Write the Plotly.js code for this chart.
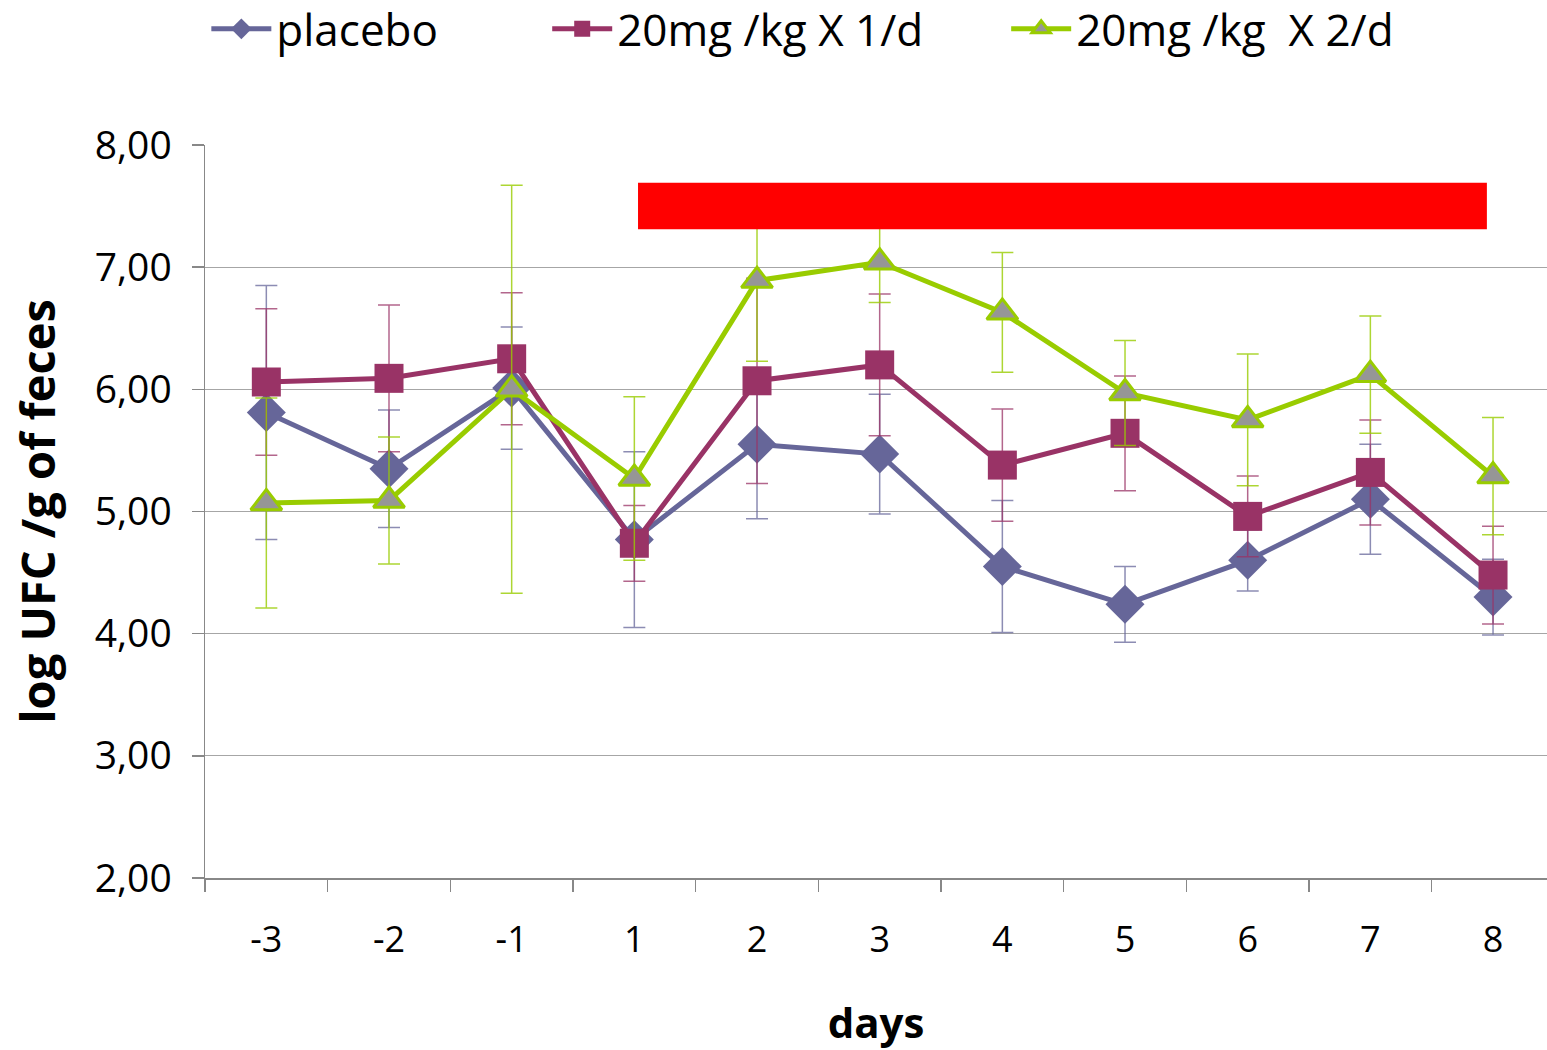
<!DOCTYPE html>
<html>
<head>
<meta charset="utf-8">
<script src="https://cdn.plot.ly/plotly-3.0.1.min.js"></script>
<style>html,body{margin:0;padding:0;background:#fff;}#chart{width:1547px;height:1050px;}</style>
</head>
<body>
<div id="chart"></div>
<script>
const days = ['-3','-2','-1','1','2','3','4','5','6','7','8'];

const placebo    = [5.81, 5.35, 6.01, 4.77, 5.55, 5.47, 4.55, 4.24, 4.60, 5.10, 4.30];
const placeboErr = [1.04, 0.48, 0.50, 0.72, 0.61, 0.49, 0.54, 0.31, 0.25, 0.45, 0.31];

const dose1      = [6.06, 6.09, 6.25, 4.74, 6.07, 6.20, 5.38, 5.64, 4.96, 5.32, 4.48];
const dose1Err   = [0.60, 0.60, 0.54, 0.31, 0.84, 0.58, 0.46, 0.47, 0.33, 0.43, 0.40];

const dose2      = [5.07, 5.09, 6.00, 5.27, 6.89, 7.04, 6.63, 5.97, 5.75, 6.12, 5.29];
const dose2Err   = [0.86, 0.52, 1.67, 0.67, 0.66, 0.33, 0.49, 0.43, 0.54, 0.48, 0.48];

const seriesNames = ['placebo', '20mg /kg X 1/d', '20mg /kg  X 2/d'];

// treatment period bar: from day 1 to day 8, between these log values
const treatmentDays  = ['1', '8'];
const treatmentLevel = [7.31, 7.69];

const FONT = 'Open Sans, Liberation Sans, sans-serif';

function mk(name, y, err, color, symbol, size, fill, lineColor, errColor, legendId) {
  return {
    type: 'scatter', mode: 'lines+markers', name: name, legend: legendId,
    x: days, y: y,
    line: {color: color, width: 5},
    marker: {symbol: symbol, size: size, color: fill, line: {color: lineColor, width: lineColor === fill ? 0 : 3}},
    error_y: {type: 'data', array: err, visible: true, color: errColor, thickness: 1.5, width: 11}
  };
}

const traces = [
  mk(seriesNames[0], placebo, placeboErr, '#666699', 'diamond', 30, '#666699', '#666699', 'rgba(102,102,153,0.75)', 'legend'),
  mk(seriesNames[1], dose1, dose1Err, '#993366', 'square', 29, '#993366', '#993366', 'rgba(153,51,102,0.75)', 'legend2'),
  mk(seriesNames[2], dose2, dose2Err, '#99CC00', 'triangle-up', 27, '#969696', '#99CC00', 'rgba(153,204,0,0.8)', 'legend3')
];

const i0 = days.indexOf(treatmentDays[0]);
const i1 = days.indexOf(treatmentDays[1]);

function leg(x) {
  return {
    orientation: 'h', x: x, xanchor: 'left', y: 1.158, yanchor: 'middle',
    font: {size: 44, family: FONT, color: '#000'},
    itemwidth: 60, bgcolor: 'rgba(0,0,0,0)'
  };
}

const layout = {
  width: 1547, height: 1050,
  margin: {l: 205, r: 0, t: 145, b: 172, autoexpand: false},
  paper_bgcolor: '#fff', plot_bgcolor: '#fff',
  separators: ',.',
  font: {family: FONT, color: '#000'},
  showlegend: true,
  legend: leg(0.001),
  legend2: leg(0.255),
  legend3: leg(0.597),
  xaxis: {
    type: 'category', range: [-0.5, 10.44],
    tickson: 'boundaries', ticks: 'outside', ticklen: 12, tickcolor: '#888', tickwidth: 1.5,
    showline: true, linecolor: '#888', linewidth: 1.5,
    showgrid: false, zeroline: false,
    tickfont: {size: 36, family: FONT},
    ticklabelstandoff: 29,
    title: {text: '<b>days</b>', font: {size: 42, family: FONT}, standoff: 50}
  },
  yaxis: {
    range: [2, 8], dtick: 1, tickformat: '.2f',
    ticks: 'outside', ticklen: 12, tickcolor: '#888', tickwidth: 1.5,
    showline: true, linecolor: '#888', linewidth: 1.5,
    showgrid: true, gridcolor: '#a6a6a6', gridwidth: 1.3, zeroline: false,
    tickfont: {size: 39, family: FONT},
    ticklabelstandoff: 12,
    title: {text: '<b>log UFC /g of feces</b>', font: {size: 47, family: FONT}, standoff: 24}
  },
  shapes: [{
    type: 'rect', xref: 'x', yref: 'y', layer: 'above',
    x0: i0 + 0.03, x1: i1 - 0.05,
    y0: treatmentLevel[0], y1: treatmentLevel[1],
    fillcolor: '#ff0000', line: {width: 0}
  }]
};

Plotly.newPlot('chart', traces, layout, {displayModeBar: false, staticPlot: true});
</script>
</body>
</html>
